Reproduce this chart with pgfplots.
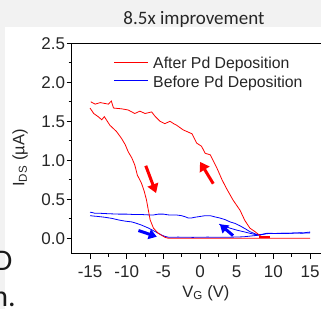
\documentclass[border=0pt]{standalone}
\usepackage{pgfplots}
\pgfplotsset{compat=1.18}
\usepackage{fontspec}
\setmainfont{Liberation Sans}
\newfontfamily\carlito{Carlito}
\usetikzlibrary{arrows.meta}
\begin{document}
\begin{tikzpicture}
\useasboundingbox (0pt,0pt) rectangle (321pt,309pt);
\fill[black!5] (0pt,0pt) rectangle (321pt,309pt);
\fill[white] (5pt,0pt) rectangle (321pt,282pt);
\clip (0pt,0pt) rectangle (321pt,309pt);
\node[anchor=base, font=\carlito\fontsize{19}{22}\selectfont, text=black!85, inner sep=0pt] at (194pt,285pt) {8.5x improvement};
\node[anchor=base east, font=\carlito\fontsize{30}{36}\selectfont, text=black!90, inner sep=0pt] at (12.5pt,39pt) {D};
\node[anchor=base east, font=\carlito\fontsize{30}{36}\selectfont, text=black!90, inner sep=0pt] at (16pt,3pt) {n.};
\begin{axis}[
  at={(71.7pt,55.1pt)}, anchor=south west, scale only axis,
  width=256.7pt, height=210.6pt,
  xmin=-17.5, xmax=17.5, ymin=-0.2, ymax=2.5,
  axis line style={line width=1pt, black},
  tick align=outside,
  major tick length=5pt, minor tick length=3pt,
  tick style={black, line width=1pt},
  xtick={-15,-10,-5,0,5,10,15},
  xticklabels={-15,-10,-5,0,5,10,15},
  ytick={0,0.5,1,1.5,2,2.5},
  yticklabels={0.0,0.5,1.0,1.5,2.0,2.5},
  minor x tick num=1, minor y tick num=1,
  xtick pos=bottom, ytick pos=left,
  ticklabel style={font=\fontsize{17}{20}\selectfont, text=black!85},
  xticklabel style={anchor=north, inner sep=0pt, yshift=-6.5pt},
  yticklabel style={anchor=east, inner sep=0pt, xshift=-1.5pt},
  xlabel={V\textsubscript{G} (V)},
  ylabel={I\textsubscript{DS} (µA)},
  label style={font=\fontsize{16.5}{19}\selectfont, text=black!85},
  xlabel style={at={(axis description cs:0.523,-0.186)}, anchor=center, inner sep=0pt},
  ylabel style={at={(axis description cs:-0.201,0.455)}, anchor=center, inner sep=0pt},
  no markers,
]
% Before Pd deposition: forward sweep (-15 -> 15)
\addplot[blue, line width=0.8pt] coordinates {
(-15,0.29) (-14.5,0.285) (-13.9,0.28) (-13,0.27) (-12,0.255) (-11.1,0.235) (-10.2,0.22) (-9.3,0.21)
(-8.6,0.19) (-8.0,0.17) (-7.5,0.15) (-7.0,0.13) (-6.5,0.105) (-6.1,0.085) (-5.6,0.06) (-5.2,0.04)
(-4.8,0.025) (-4.3,0.013) (-3,0.015) (-1,0.012) (1,0.015) (3,0.013) (5,0.016) (6,0.02) (7,0.03)
(8,0.04) (8.6,0.05) (9.1,0.06) (10,0.062) (11,0.064) (12,0.063) (13,0.068) (14,0.066) (14.5,0.075) (15,0.08)
};
% Before Pd deposition: reverse sweep (15 -> -15)
\addplot[blue, line width=0.8pt] coordinates {
(15,0.07) (14.5,0.068) (13.6,0.07) (12.5,0.066) (11.8,0.064) (10.5,0.062) (9.1,0.064) (8.4,0.05)
(7.7,0.05) (7.2,0.07) (6.8,0.085) (6.2,0.12) (5.45,0.16) (4.8,0.19) (4.1,0.21) (3.4,0.24) (2.7,0.26)
(2.0,0.275) (1.4,0.29) (0.7,0.29) (0,0.28) (-0.7,0.27) (-1.2,0.26) (-1.6,0.26) (-2.0,0.275) (-2.5,0.29)
(-3.3,0.30) (-4.3,0.30) (-5.0,0.31) (-5.7,0.31) (-6.3,0.30) (-7.0,0.30) (-8.0,0.305) (-9.0,0.305)
(-10,0.31) (-11.1,0.31) (-12.5,0.315) (-13.5,0.32) (-14.3,0.32) (-14.7,0.33) (-15,0.335)
};
\addplot[blue, line width=0.8pt] coordinates {
(2.6,0.18) (3.2,0.16) (4.1,0.13) (5.0,0.105) (5.9,0.085) (7.0,0.06) (7.95,0.04)
};
% After Pd deposition
\addplot[red, line width=0.8pt] coordinates {
(-15,1.67) (-14.5,1.60) (-13.9,1.56) (-13.4,1.52) (-13.05,1.56) (-12.3,1.45) (-11.4,1.37) (-10.7,1.28)
(-10.2,1.20) (-9.8,1.11) (-9.3,1.03) (-8.9,0.94) (-8.55,0.81) (-8.0,0.71) (-7.6,0.60) (-7.3,0.49)
(-7.05,0.36) (-6.8,0.235) (-6.35,0.13) (-5.7,0.064) (-4.8,0.013) (-4.3,0.0) (15,0.0)
(8.4,0.0) (8.4,0.02) (8.1,0.04) (7.5,0.085) (6.8,0.13) (6.1,0.23) (5.45,0.36) (4.5,0.49) (3.6,0.64)
(3.0,0.75) (2.3,0.90) (1.4,1.07) (0.7,1.09) (0.2,1.18) (-0.45,1.22) (-1.1,1.34) (-2.3,1.39)
(-3.2,1.45) (-3.6,1.47) (-4.1,1.50) (-4.8,1.47) (-5.45,1.50) (-6.1,1.56) (-6.6,1.62) (-7.5,1.60)
(-8.2,1.63) (-8.9,1.60) (-9.8,1.645) (-10.7,1.66) (-11.8,1.67) (-12.1,1.76) (-12.5,1.72)
(-13.6,1.74) (-14.3,1.72) (-14.9,1.75)
};
\addplot[red, line width=2.2pt] coordinates {(8.1,0.015) (9.5,0.015)};
% direction arrows
\addplot[red, line width=3pt, -{Triangle[length=9pt,width=11pt]}] coordinates {(-7.4,0.93) (-6.0,0.58)};
\addplot[red, line width=3pt, -{Triangle[length=9pt,width=11pt]}] coordinates {(1.8,0.70) (0.0,0.98)};
\addplot[blue, line width=3pt, -{Triangle[length=8pt,width=10pt]}] coordinates {(-8.4,0.10) (-5.9,0.02)};
\addplot[blue, line width=3pt, -{Triangle[length=8pt,width=10pt]}] coordinates {(4.5,0.035) (2.7,0.18)};
% legend
\addplot[red, line width=1pt] coordinates {(-11.73,2.26) (-7.09,2.26)};
\addplot[blue, line width=1pt] coordinates {(-11.73,2.017) (-7.09,2.017)};
\node[anchor=base west, inner sep=0pt, font=\fontsize{15.8}{18}\selectfont, text=black!85] at (axis cs:-6.41,2.179) {After Pd Deposition};
\node[anchor=base west, inner sep=0pt, font=\fontsize{15.8}{18}\selectfont, text=black!85] at (axis cs:-6.41,1.936) {Before Pd Deposition};
\end{axis}
\end{tikzpicture}
\end{document}
